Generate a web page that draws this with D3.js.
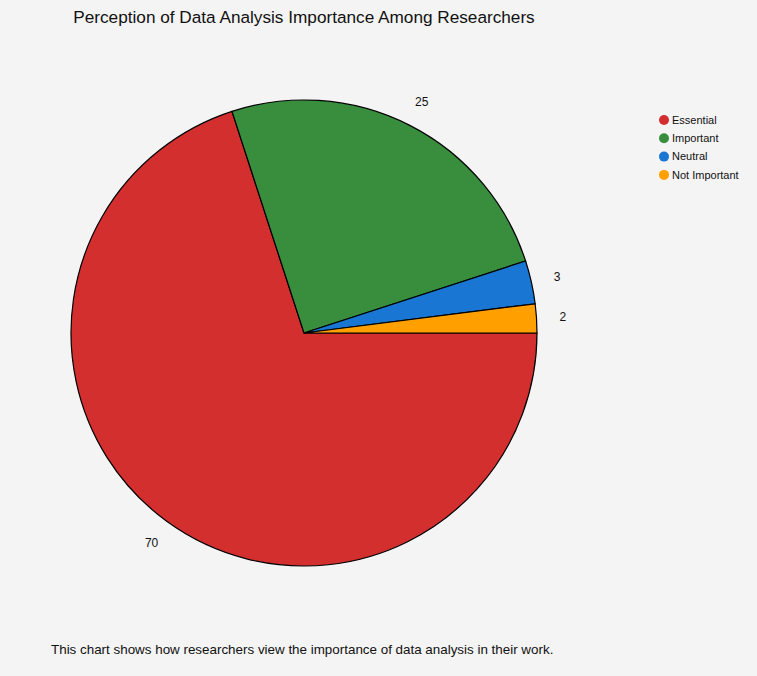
<!DOCTYPE html>
<html>
<head>
<meta charset="utf-8">
<script src="https://cdn.jsdelivr.net/npm/d3@7"></script>
<style>
  body { margin: 0; background: #f4f4f4; font-family: Arial, "Liberation Sans", sans-serif; }
  svg { display: block; }
</style>
</head>
<body>
<svg id="chart"></svg>
<script>
// данные диаграммы
const categories = ["Essential", "Important", "Neutral", "Not Important"];
const values = [70, 25, 3, 2];
const colors = ["#d32f2f", "#388e3c", "#1976d2", "#ffa000"];

const title = "Perception of Data Analysis Importance Among Researchers";
const caption = "This chart shows how researchers view the importance of data analysis in their work.";

function drawChart() {
    const width = 757, height = 676;
    const svg = d3.select("#chart")
        .attr("width", width)
        .attr("height", height);

    const cx = 304, cy = 333, radius = 233;

    svg.append("text")
        .attr("x", cx)
        .attr("y", 23)
        .attr("text-anchor", "middle")
        .style("font-size", "17.2px")
        .style("fill", "#111")
        .text(title);

    const data = categories.map((c, i) => ({ label: c, value: values[i], color: colors[i] }));

    // начинаем с 3 часов, по часовой стрелке
    const pie = d3.pie()
        .value(d => d.value)
        .sort(null)
        .startAngle(Math.PI / 2)
        .endAngle(Math.PI / 2 + 2 * Math.PI);

    const arc = d3.arc().innerRadius(0).outerRadius(radius);
    const labelArc = d3.arc().innerRadius(radius * 1.113).outerRadius(radius * 1.113);

    const g = svg.append("g").attr("transform", `translate(${cx}, ${cy})`);
    const arcs = pie(data);

    g.selectAll("path")
        .data(arcs)
        .enter()
        .append("path")
        .attr("d", arc)
        .style("fill", d => d.data.color)
        .style("stroke", "#000")
        .style("stroke-width", 1.2);

    g.selectAll(".lbl")
        .data(arcs)
        .enter()
        .append("text")
        .attr("class", "lbl")
        .attr("transform", d => `translate(${labelArc.centroid(d)})`)
        .attr("text-anchor", "middle")
        .attr("dy", "0.35em")
        .style("font-size", "12px")
        .style("fill", "#111")
        .text(d => d.data.value);

    // легенда
    const legend = svg.append("g").attr("transform", "translate(664, 120)");
    const item = legend.selectAll(".item")
        .data(data)
        .enter()
        .append("g")
        .attr("transform", (d, i) => `translate(0, ${i * 18.3})`);
    item.append("circle")
        .attr("r", 5)
        .style("fill", d => d.color);
    item.append("text")
        .attr("x", 8)
        .attr("dy", "0.35em")
        .style("font-size", "11px")
        .style("fill", "#111")
        .text(d => d.label);

    svg.append("text")
        .attr("x", 51)
        .attr("y", 654)
        .style("font-size", "13.4px")
        .style("fill", "#111")
        .text(caption);
}

drawChart();
</script>
</body>
</html>
